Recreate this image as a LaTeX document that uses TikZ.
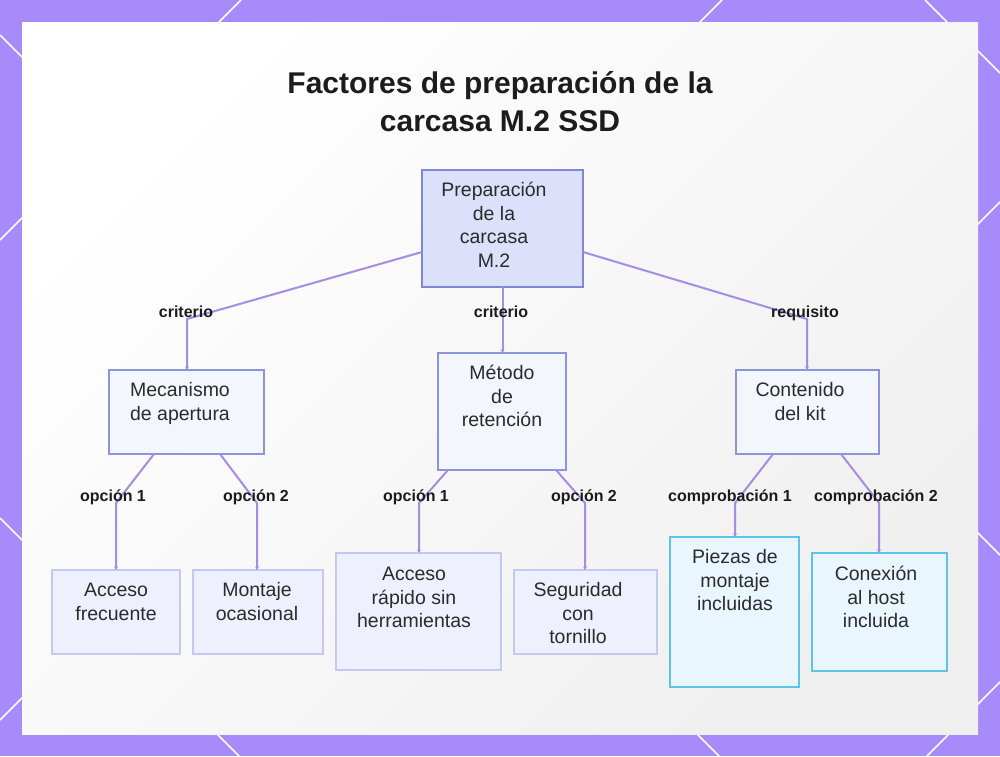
\documentclass[tikz,border=0pt]{standalone}
\usepackage{fontspec}
\setmainfont{Liberation Sans}
\usetikzlibrary{arrows.meta,calc}
\definecolor{bgpurple}{HTML}{A78BFA}
\definecolor{edgecol}{HTML}{A68CE4}
\definecolor{rootfill}{HTML}{DCE0FB}
\definecolor{rootdraw}{HTML}{7F87D9}
\definecolor{midfill}{HTML}{F4F6FE}
\definecolor{middraw}{HTML}{8C95DC}
\definecolor{lowfill}{HTML}{EEF0FD}
\definecolor{lowdraw}{HTML}{C3C9F1}
\definecolor{cyanfill}{HTML}{EAF6FE}
\definecolor{cyandraw}{HTML}{5EC3E6}
\definecolor{txtcol}{HTML}{2B2B2B}
\definecolor{titlecol}{HTML}{1C1C1C}
\tikzset{
  boxbase/.style={rectangle, inner sep=0pt, outer sep=0pt, line width=1.6pt, anchor=north west},
  rootbox/.style={boxbase, draw=rootdraw, fill=rootfill},
  midbox/.style={boxbase, draw=middraw, fill=midfill},
  lowbox/.style={boxbase, draw=lowdraw, fill=lowfill},
  cyanbox/.style={boxbase, draw=cyandraw, fill=cyanfill},
  txt/.style={anchor=north, inner sep=0pt, align=center, text=txtcol, font=\fontsize{19.5}{23.8}\selectfont},
  lbl/.style={anchor=base, inner sep=0pt, text=titlecol, font=\bfseries\fontsize{16}{19}\selectfont},
  edge/.style={draw=edgecol, line width=2pt, -{Stealth[length=3.5pt,width=4pt]}},
  deco/.style={draw=white, line width=1.5pt}
}
\newcommand{\fr}{\rule{0pt}{18pt}}
\begin{document}
\begin{tikzpicture}[x=1pt,y=-1pt]
\useasboundingbox (0,0) rectangle (1000,756);
\fill[bgpurple] (0,0) rectangle (1000,756);
% decorative white strokes on the frame
\foreach \a/\b/\c/\d in {217/24/241/0, 698/24/722/0, 925/0/949/24,
  976/49/1000/73, 976/226/1000/202, 976/531/1000/555, 976/706/1000/682,
  695/732/719/756, 927/756/951/732, 215/732/239/756,
  0/240/24/216, 0/518/24/542, 0/720/24/696, 0/35/24/59}
  \draw[deco] (\a,\b) -- (\c,\d);
\shade[top color=white, middle color=white, bottom color=black!6, shading angle=45] (22,22) rectangle (978,734);

% title
\node[anchor=north, inner sep=0pt, align=center, text=titlecol, font=\bfseries\fontsize{30}{38}\selectfont] (title) at (500,63)
  {\rule{0pt}{30pt}Factores de preparación de la\\carcasa M.2 SSD};

% boxes
\node[rootbox, minimum width=161pt, minimum height=117pt] (root) at (422,170) {};
\node[midbox, minimum width=155pt, minimum height=84pt] (mech) at (109,370) {};
\node[midbox, minimum width=128pt, minimum height=117pt] (met) at (438,353) {};
\node[midbox, minimum width=143pt, minimum height=84pt] (cont) at (736,370) {};
\node[lowbox, minimum width=128pt, minimum height=84pt] (af) at (52,570) {};
\node[lowbox, minimum width=130pt, minimum height=84pt] (mo) at (193,570) {};
\node[lowbox, minimum width=165pt, minimum height=117pt] (ar) at (336,553) {};
\node[lowbox, minimum width=143pt, minimum height=84pt] (se) at (514,570) {};
\node[cyanbox, minimum width=129pt, minimum height=150pt] (pz) at (670,537) {};
\node[cyanbox, minimum width=135pt, minimum height=118pt] (cx) at (812,553) {};

% box texts
\node[txt] (root-t) at (494,178) {\fr Preparación\\de la\\carcasa\\M.2};
\node[txt] (mech-t) at (180,378) {\fr Mecanismo\\de apertura};
\node[txt] (met-t) at (502,361) {\fr Método\\de\\retención};
\node[txt] (cont-t) at (800,378) {\fr Contenido\\del kit};
\node[txt] (af-t) at (116,578) {\fr Acceso\\frecuente};
\node[txt] (mo-t) at (257,578) {\fr Montaje\\ocasional};
\node[txt] (ar-t) at (414,562) {\fr Acceso\\rápido sin\\herramientas};
\node[txt] (se-t) at (578,578) {\fr Seguridad\\con\\tornillo};
\node[txt] (pz-t) at (735,545) {\fr Piezas de\\montaje\\incluidas};
\node[txt] (cx-t) at (876,562) {\fr Conexión\\al host\\incluida};

% kink points
\coordinate (k1) at (187,319);
\coordinate (k2) at (807,319);
\coordinate (k3) at (116,503);
\coordinate (k4) at (257,503);
\coordinate (k5) at (419,503);
\coordinate (k6) at (585,503);
\coordinate (k7) at (735,503);
\coordinate (k8) at (879,503);

% connectors
\draw[edge] ($(root.west)+(0,23.5)$) -- (k1) -- (k1 |- mech.north);
\draw[edge] (root.south) -- (root.south |- met.north);
\draw[edge] ($(root.east)+(0,23.5)$) -- (k2) -- (k2 |- cont.north);
\draw[edge] ($(mech.south)+(-32.5,0)$) -- (k3) -- (k3 |- af.north);
\draw[edge] ($(mech.south)+(33.5,0)$) -- (k4) -- (k4 |- mo.north);
\draw[edge] ($(met.south)+(-54,0)$) -- (k5) -- (k5 |- ar.north);
\draw[edge] ($(met.south)+(54,0)$) -- (k6) -- (k6 |- se.north);
\draw[edge] ($(cont.south)+(-34.5,0)$) -- (k7) -- (k7 |- pz.north);
\draw[edge] ($(cont.south)+(33.5,0)$) -- (k8) -- (k8 |- cx.north);

% connector labels
\node[lbl] (l1) at (186,317) {criterio};
\node[lbl] (l2) at (501,317) {criterio};
\node[lbl] (l3) at (805,317) {requisito};
\node[lbl] (l4) at (113,501) {opción 1};
\node[lbl] (l5) at (256,501) {opción 2};
\node[lbl] (l6) at (416,501) {opción 1};
\node[lbl] (l7) at (584,501) {opción 2};
\node[lbl] (l8) at (730,501) {comprobación 1};
\node[lbl] (l9) at (876,501) {comprobación 2};
\end{tikzpicture}
\end{document}
